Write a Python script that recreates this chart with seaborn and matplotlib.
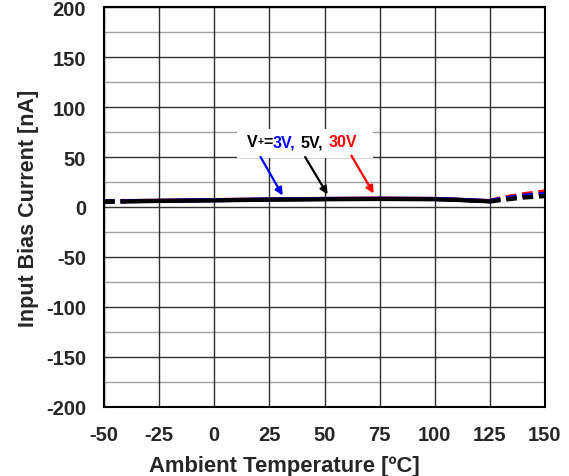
import matplotlib
matplotlib.use('Agg')
import matplotlib.pyplot as plt
from matplotlib.patches import Rectangle
import seaborn as sns
import pandas as pd
import numpy as np

# temperatures [ºC]; measured range is -40..125, outside is dashed
temps = [-50, -40, -25, 0, 25, 50, 75, 100, 110, 125, 130, 140, 150]
bias_3v = [5.5, 5.8, 6.2, 6.8, 7.5, 8.0, 8.3, 8.0, 7.3, 5.8, 8.0, 11.0, 13.0]
bias_5v = [5.3, 5.6, 6.0, 6.6, 7.3, 7.7, 8.0, 7.7, 7.0, 5.6, 7.0, 9.5, 11.0]
bias_30v = [5.6, 5.9, 6.3, 6.9, 7.6, 8.1, 8.4, 8.1, 7.4, 5.9, 8.8, 12.5, 15.5]
supplies = ['3V', '5V', '30V']
colors = {'3V': 'blue', '5V': 'black', '30V': 'red'}

x_ticks = [-50, -25, 0, 25, 50, 75, 100, 125, 150]
y_ticks = [-200, -150, -100, -50, 0, 50, 100, 150, 200]

df = pd.DataFrame({'temp': temps * 3,
                   'ib': bias_3v + bias_5v + bias_30v,
                   'vplus': [s for s in supplies for _ in temps]})
in_range = (df['temp'] >= -40) & (df['temp'] <= 125)

sns.set_style('white')
plt.rcParams['font.family'] = ['Liberation Sans', 'DejaVu Sans']
plt.rcParams['axes.unicode_minus'] = False

fig = plt.figure(figsize=(5.69, 4.77), dpi=100)
ax = fig.add_axes([0.1828, 0.1447, 0.775, 0.8385])

# grid
for yv in np.arange(-175, 200, 50):
    ax.axhline(yv, color='#a0a0a0', lw=1, zorder=0)
for yv in y_ticks:
    ax.axhline(yv, color='#303030', lw=1, zorder=0)
for xv in x_ticks:
    ax.axvline(xv, color='#303030', lw=1, zorder=0)

# dashed extrapolation outside the spec range, solid inside
left = df[df['temp'] <= -40]
right = df[df['temp'] >= 125]
for part in [left, right]:
    for s in ['30V', '3V', '5V']:
        sub = part[part['vplus'] == s]
        sns.lineplot(data=sub, x='temp', y='ib', color=colors[s], lw=3.2,
                     linestyle=(0, (2.4, 1.3)), ax=ax, legend=False)
for s in ['30V', '3V', '5V']:
    sub = df[in_range & (df['vplus'] == s)]
    sns.lineplot(data=sub, x='temp', y='ib', color=colors[s], lw=3.0,
                 ax=ax, legend=False)

ax.set_xlim(-50, 150)
ax.set_ylim(-200, 200)
ax.set_xticks(x_ticks)
ax.set_yticks(y_ticks)
ax.tick_params(labelsize=14.5, length=0)
ax.tick_params(axis='x', pad=13)
ax.tick_params(axis='y', pad=13)
for lbl in ax.get_xticklabels() + ax.get_yticklabels():
    lbl.set_fontweight('bold')
for sp in ax.spines.values():
    sp.set_color('black')
    sp.set_linewidth(1.5)

ax.set_xlabel('Ambient Temperature [ºC]', fontsize=15.8, fontweight='bold')
ax.xaxis.set_label_coords(0.409, -0.12)
ax.xaxis.label.set_va('top')
ax.set_ylabel('Input Bias Current [nA]', fontsize=15.5, fontweight='bold', labelpad=5)

# label box and arrows
ax.add_patch(Rectangle((10.3, 49), 61.7, 29, facecolor='white',
                       edgecolor='none', zorder=3))
ty = 60.7
ax.text(14.7, ty, 'V', color='black', fontsize=11.5, fontweight='bold',
        va='baseline', ha='left', zorder=5)
ax.text(19.6, ty + 2.2, '+', color='black', fontsize=7.5, fontweight='bold',
        va='baseline', ha='left', zorder=5)
pieces = [(22.3, '=', 'black'), (26.6, '3V,', 'blue'),
          (39.3, '5V,', 'black'), (52.0, '30V', 'red')]
for xp, txt, c in pieces:
    ax.text(xp, ty, txt, color=c, fontsize=11.5, fontweight='bold',
            va='baseline', ha='left', zorder=5)
arrows = [((21.0, 50), (31.0, 11.5), 'blue'),
          ((41.2, 50), (51.4, 12.5), 'black'),
          ((62.2, 51.3), (72.3, 13.5), 'red')]
for start, end, c in arrows:
    ax.annotate('', xy=end, xytext=start,
                arrowprops=dict(arrowstyle='-|>', color=c, lw=1.6,
                                mutation_scale=11, shrinkA=0, shrinkB=0),
                zorder=5)

fig.savefig('out.png', dpi=100)
